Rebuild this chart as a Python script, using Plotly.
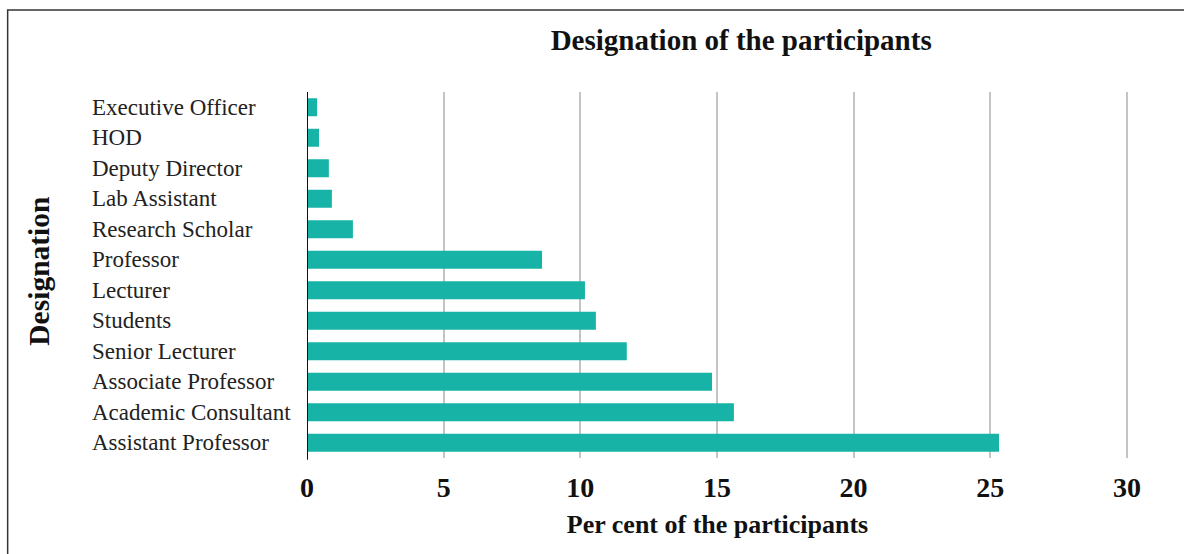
import plotly.graph_objects as go

# Designation categories (top to bottom) and their share of participants (%)
designations = [
    "Executive Officer", "HOD", "Deputy Director", "Lab Assistant",
    "Research Scholar", "Professor", "Lecturer", "Students",
    "Senior Lecturer", "Associate Professor", "Academic Consultant",
    "Assistant Professor",
]
percent = [0.37, 0.44, 0.80, 0.91, 1.68, 8.60, 10.17, 10.57, 11.70, 14.82, 15.62, 25.32]
x_ticks = [0, 5, 10, 15, 20, 25, 30]

SERIF = "Liberation Serif, Times New Roman, serif"
BAR_COLOR = "#16b3a6"
INK = "#111111"

fig = go.Figure(
    go.Bar(
        x=percent,
        y=designations,
        orientation="h",
        marker=dict(color=BAR_COLOR, line=dict(width=0)),
        hoverinfo="x+y",
    )
)

# Left-aligned category labels
annotations = [
    dict(
        x=-0.2645, xref="paper", y=name, yref="y",
        text=name, showarrow=False, xanchor="left", yanchor="middle",
        font=dict(family=SERIF, size=23, color="#222222"),
    )
    for name in designations
]
# Rotated y-axis title
annotations.append(
    dict(
        x=-0.326, xref="paper", y=0.51, yref="paper",
        text="<b>Designation</b>", showarrow=False, textangle=-90,
        xanchor="center", yanchor="middle",
        font=dict(family=SERIF, size=29.5, color=INK),
    )
)

fig.update_layout(
    width=1184,
    height=554,
    margin=dict(l=307, r=56, t=92, b=96),
    paper_bgcolor="white",
    plot_bgcolor="white",
    bargap=0.41,
    showlegend=False,
    title=dict(
        text="<b>Designation of the participants</b>",
        x=0.626, xanchor="center", y=0.928, yanchor="middle",
        font=dict(family=SERIF, size=29, color=INK),
    ),
    xaxis=dict(
        range=[0, 30.04],
        tickvals=x_ticks,
        ticktext=[f"<b>{v}</b>" for v in x_ticks],
        tickfont=dict(family=SERIF, size=28, color=INK),
        showgrid=True,
        gridcolor="#c4c4c4",
        gridwidth=1.5,
        zeroline=False,
        showline=False,
        ticks="",
        ticklabelstandoff=10,
        title=dict(
            text="<b>Per cent of the participants</b>",
            font=dict(family=SERIF, size=26, color=INK),
            standoff=12,
        ),
    ),
    yaxis=dict(
        categoryorder="array",
        categoryarray=designations[::-1],
        showticklabels=False,
        showgrid=False,
        zeroline=False,
        showline=False,
        ticks="",
    ),
    annotations=annotations,
    shapes=[
        # y-axis baseline at x = 0
        dict(type="line", xref="x", yref="paper", x0=0, x1=0, y0=-0.005, y1=1.0,
             line=dict(color=INK, width=2)),
        # outer frame
        dict(type="rect", xref="paper", yref="paper",
             x0=-0.3646, x1=1.2, y0=-0.6, y1=1.224,
             line=dict(color="#333333", width=1.5), layer="below"),
    ],
)

fig.write_html("out.html")
